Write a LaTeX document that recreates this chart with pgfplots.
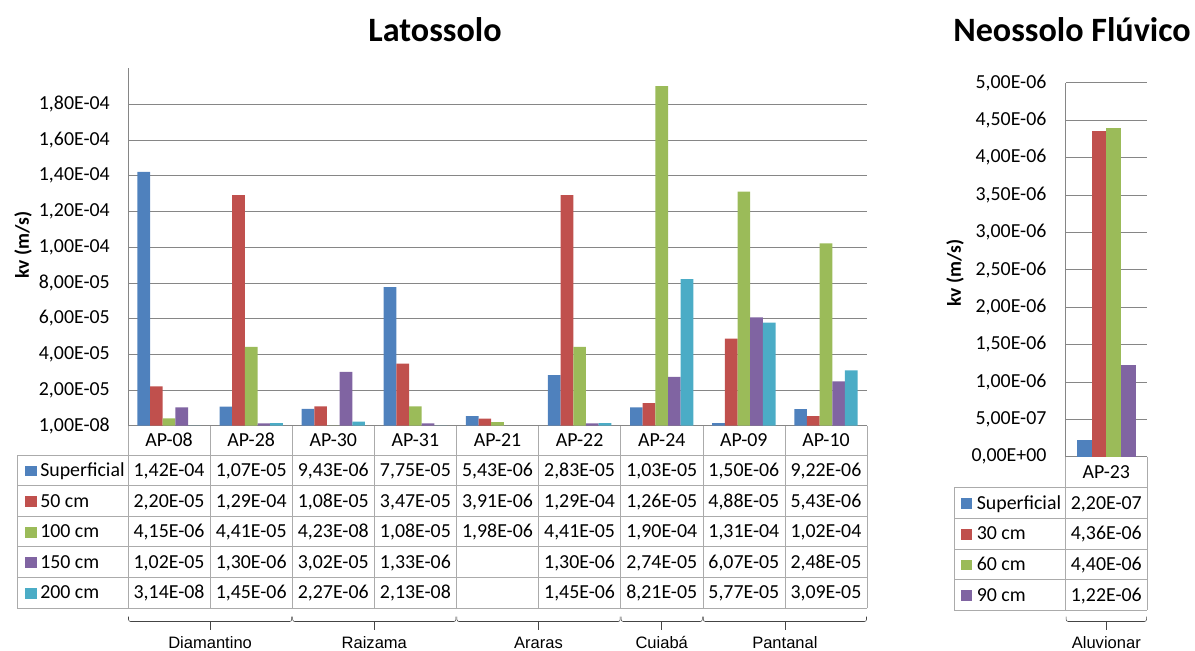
\documentclass[border=0pt]{standalone}
\usepackage{pgfplots}
\pgfplotsset{compat=1.18}
\usepackage{fontspec}
\setmainfont{Carlito}
\newfontfamily\arial{Liberation Sans}
\definecolor{cS}{HTML}{4F81BD}
\definecolor{cA}{HTML}{C0504D}
\definecolor{cB}{HTML}{9BBB59}
\definecolor{cC}{HTML}{8064A2}
\definecolor{cD}{HTML}{4BACC6}
\definecolor{tline}{HTML}{ABABAB}
\definecolor{gline}{HTML}{868686}
\definecolor{brk}{HTML}{444444}
\newcommand\tf{\fontsize{14.9}{17}\selectfont}
\begin{document}
\begin{tikzpicture}
\useasboundingbox (0,0) rectangle (896.25pt,-487.5pt);
% ---------- Latossolo ----------
\begin{axis}[at={(96pt,-319.275pt)}, anchor=south west, scale only axis,
  width=554.25pt, height=268pt,
  xmin=-0.5, xmax=8.5, ymin=0, ymax=2e-4,
  ybar=0pt, bar width=9.5pt,
  axis x line*=bottom, axis y line*=left,
  axis line style={draw=gline,-},
  xtick=\empty, scaled y ticks=false,
  ytick={1e-8,2e-5,4e-5,6e-5,8e-5,1e-4,1.2e-4,1.4e-4,1.6e-4,1.8e-4},
  yticklabels={\mbox{1,00E-08},\mbox{2,00E-05},\mbox{4,00E-05},\mbox{6,00E-05},\mbox{8,00E-05},\mbox{1,00E-04},\mbox{1,20E-04},\mbox{1,40E-04},\mbox{1,60E-04},\mbox{1,80E-04}},
  yticklabel style={font=\tf, inner sep=0pt, xshift=-13.5pt},
  major tick length=0pt,
  ymajorgrids, grid style={draw=gline},
  clip=false]
\addplot[fill=cS, draw=none] coordinates {(0,1.42e-4) (1,1.07e-5) (2,9.43e-6) (3,7.75e-5) (4,5.43e-6) (5,2.83e-5) (6,1.03e-5) (7,1.50e-6) (8,9.22e-6)};
\addplot[fill=cA, draw=none] coordinates {(0,2.20e-5) (1,1.29e-4) (2,1.08e-5) (3,3.47e-5) (4,3.91e-6) (5,1.29e-4) (6,1.26e-5) (7,4.88e-5) (8,5.43e-6)};
\addplot[fill=cB, draw=none] coordinates {(0,4.15e-6) (1,4.41e-5) (2,4.23e-8) (3,1.08e-5) (4,1.98e-6) (5,4.41e-5) (6,1.90e-4) (7,1.31e-4) (8,1.02e-4)};
\addplot[fill=cC, draw=none] coordinates {(0,1.02e-5) (1,1.30e-6) (2,3.02e-5) (3,1.33e-6) (5,1.30e-6) (6,2.74e-5) (7,6.07e-5) (8,2.48e-5)};
\addplot[fill=cD, draw=none] coordinates {(0,3.14e-8) (1,1.45e-6) (2,2.27e-6) (3,2.13e-8) (5,1.45e-6) (6,8.21e-5) (7,5.77e-5) (8,3.09e-5)};
\end{axis}
% ---------- Neossolo Fluvico ----------
\begin{axis}[at={(799.275pt,-342.525pt)}, anchor=south west, scale only axis,
  width=60.975pt, height=280.5pt,
  xmin=-0.5, xmax=0.5, ymin=0, ymax=5e-6,
  ybar=0pt, bar width=11pt,
  axis x line*=bottom, axis y line*=left,
  axis line style={draw=gline,-},
  xtick=\empty, scaled y ticks=false,
  ytick={0,5e-7,1e-6,1.5e-6,2e-6,2.5e-6,3e-6,3.5e-6,4e-6,4.5e-6,5e-6},
  yticklabels={\mbox{0,00E+00},\mbox{5,00E-07},\mbox{1,00E-06},\mbox{1,50E-06},\mbox{2,00E-06},\mbox{2,50E-06},\mbox{3,00E-06},\mbox{3,50E-06},\mbox{4,00E-06},\mbox{4,50E-06},\mbox{5,00E-06}},
  yticklabel style={font=\tf, inner sep=0pt, xshift=-14.25pt},
  major tick length=0pt,
  ymajorgrids, grid style={draw=gline},
  clip=false]
\addplot[fill=cS, draw=none] coordinates {(0,2.20e-7)};
\addplot[fill=cA, draw=none] coordinates {(0,4.36e-6)};
\addplot[fill=cB, draw=none] coordinates {(0,4.40e-6)};
\addplot[fill=cC, draw=none] coordinates {(0,1.22e-6)};
\end{axis}
% ---------- text, tables, brackets (pixel units) ----------
\begin{scope}[x=0.75pt,y=0.75pt]
\node[font=\fontsize{25.6}{30}\selectfont\bfseries] at (435,-30) {Latossolo};
\node[font=\fontsize{25.6}{30}\selectfont\bfseries] at (1072,-30) {Neossolo Flúvico};
\node[rotate=90, font=\fontsize{14.7}{17}\selectfont\bfseries] at (23,-245) {kv (m/s)};
\node[rotate=90, font=\fontsize{14.7}{17}\selectfont\bfseries] at (955,-273) {kv (m/s)};
% left table grid
\foreach \y in {455,485.7,516.2,546.7,577.2,608} \draw[tline] (17,-\y) -- (867,-\y);
\draw[tline] (17,-455) -- (17,-608);
\foreach \i in {0,...,9} \draw[tline] ({128+\i*82.111},-425.7) -- ({128+\i*82.111},-608);
\foreach \n [count=\i from 0] in {AP-08,AP-28,AP-30,AP-31,AP-21,AP-22,AP-24,AP-09,AP-10}
  \node[font=\tf, anchor=base, inner sep=0pt] at ({128+(\i+0.5)*82.111},-446.5) {\n};
% rows
\foreach \yb/\c/\lab in {476.3/cS/Superficial,507/cA/50 cm,537.5/cB/100 cm,568/cC/150 cm,598.6/cD/200 cm}{
  \fill[\c] (25.3,-\yb) rectangle (36.5,{-\yb+10.8});
  \node[font=\tf, anchor=base west, inner sep=0pt] at (40,-\yb) {\lab};
}
\foreach \v [count=\i from 0] in {{1,42E-04},{1,07E-05},{9,43E-06},{7,75E-05},{5,43E-06},{2,83E-05},{1,03E-05},{1,50E-06},{9,22E-06}}
  \node[font=\tf, anchor=base, inner sep=0pt] at ({128+(\i+0.5)*82.111},-476.3) {\v};
\foreach \v [count=\i from 0] in {{2,20E-05},{1,29E-04},{1,08E-05},{3,47E-05},{3,91E-06},{1,29E-04},{1,26E-05},{4,88E-05},{5,43E-06}}
  \node[font=\tf, anchor=base, inner sep=0pt] at ({128+(\i+0.5)*82.111},-507) {\v};
\foreach \v [count=\i from 0] in {{4,15E-06},{4,41E-05},{4,23E-08},{1,08E-05},{1,98E-06},{4,41E-05},{1,90E-04},{1,31E-04},{1,02E-04}}
  \node[font=\tf, anchor=base, inner sep=0pt] at ({128+(\i+0.5)*82.111},-537.5) {\v};
\foreach \v [count=\i from 0] in {{1,02E-05},{1,30E-06},{3,02E-05},{1,33E-06},{},{1,30E-06},{2,74E-05},{6,07E-05},{2,48E-05}}
  \node[font=\tf, anchor=base, inner sep=0pt] at ({128+(\i+0.5)*82.111},-568) {\v};
\foreach \v [count=\i from 0] in {{3,14E-08},{1,45E-06},{2,27E-06},{2,13E-08},{},{1,45E-06},{8,21E-05},{5,77E-05},{3,09E-05}}
  \node[font=\tf, anchor=base, inner sep=0pt] at ({128+(\i+0.5)*82.111},-598.6) {\v};
% left brackets
\foreach \a/\b/\lab in {128/292.2/Diamantino,292.2/456.4/Raizama,456.4/620.7/Araras,620.7/702.8/Cuiabá,702.8/867/Pantanal}{
  \draw[brk, rounded corners=1.5pt] (\a+0.5,-616.5) -- (\a+0.5,-621.5) -- (\b-0.5,-621.5) -- (\b-0.5,-616.5);
  \draw[brk] ({(\a+\b)/2},-621.5) -- ({(\a+\b)/2},-630);
  \node[font=\arial\fontsize{12.4}{14}\selectfont, anchor=base, inner sep=0pt] at ({(\a+\b)/2},-648) {\lab};
}
% right table grid
\foreach \y in {487.7,518.3,549,579.7,610.3} \draw[tline] (954,-\y) -- (1147,-\y);
\draw[tline] (954,-487.7) -- (954,-610.3);
\draw[tline] (1065.7,-456.7) -- (1065.7,-610.3);
\draw[tline] (1147,-456.7) -- (1147,-610.3);
\node[font=\tf, anchor=base, inner sep=0pt] at (1106.3,-478.3) {AP-23};
\foreach \yb/\c/\lab/\v in {509/cS/Superficial/{2,20E-07},539.7/cA/30 cm/{4,36E-06},570.3/cB/60 cm/{4,40E-06},601/cC/90 cm/{1,22E-06}}{
  \fill[\c] (961,-\yb) rectangle (972.3,{-\yb+10.8});
  \node[font=\tf, anchor=base west, inner sep=0pt] at (976.5,-\yb) {\lab};
  \node[font=\tf, anchor=base, inner sep=0pt] at (1106.3,-\yb) {\v};
}
\draw[brk, rounded corners=1.5pt] (1066.2,-616.5) -- (1066.2,-621.5) -- (1146.5,-621.5) -- (1146.5,-616.5);
\draw[brk] (1106.3,-621.5) -- (1106.3,-630);
\node[font=\arial\fontsize{12.4}{14}\selectfont, anchor=base, inner sep=0pt] at (1106.3,-648) {Aluvionar};
\end{scope}
\end{tikzpicture}
\end{document}
